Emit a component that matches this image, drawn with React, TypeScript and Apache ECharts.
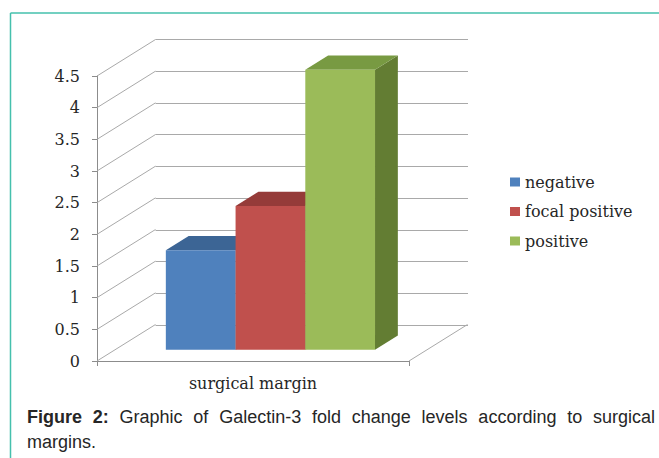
import React, { useEffect, useRef } from "react";
import * as echarts from "echarts";

const categories = ["surgical margin"];
const seriesNames = ["negative", "focal positive", "positive"];
const seriesValues = [1.57, 2.27, 4.42];
const yTicks = [0, 0.5, 1, 1.5, 2, 2.5, 3, 3.5, 4, 4.5];
const frontColors = ["#4f81bd", "#c0504d", "#9bbb59"];
const topColors = ["#3c6595", "#953b39", "#789a42"];
const sideColors = ["#34577f", "#7f3230", "#637d33"];
const captionBold = ["Figure", "2:"];
const captionLine1 = ["Graphic", "of", "Galectin-3", "fold", "change", "levels", "according", "to", "surgical"];
const captionLine2 = "margins.";

// 3D projection constants (full depth offset of the plot box)
const DX = 58.5;
const DY = -36.5;
const F0 = 0.31; // bar front plane depth fraction
const F1 = 0.7; // bar back plane depth fraction
const GAP = 0.1625;
const BW = 0.2235;

const CAP_FONT = "'Liberation Sans', Arial, sans-serif";
const CAP_SIZE = 18;

function measure(text: string, bold: boolean): number {
  const c = document.createElement("canvas");
  const ctx = c.getContext("2d")!;
  ctx.font = `${bold ? "bold " : ""}${CAP_SIZE}px ${CAP_FONT}`;
  return ctx.measureText(text).width;
}

export default function App() {
  const ref = useRef<HTMLDivElement>(null);
  useEffect(() => {
    document.body.style.margin = "0";
    if (!ref.current) return;
    const chart = echarts.init(ref.current, undefined, { renderer: "svg" });

    // justified caption line 1
    const words = [
      ...captionBold.map((w) => ({ w, bold: true })),
      ...captionLine1.map((w) => ({ w, bold: false })),
    ];
    const widths = words.map((o) => measure(o.w, o.bold));
    const x0 = 27;
    const x1 = 655;
    const total = widths.reduce((a, b) => a + b, 0);
    const gap = (x1 - x0 - total) / (words.length - 1);
    let cx = x0;
    const captionEls: any[] = words.map((o, k) => {
      const el = {
        type: "text",
        x: cx,
        y: 417,
        style: {
          text: o.w,
          fontFamily: CAP_FONT,
          fontSize: CAP_SIZE,
          fontWeight: o.bold ? "bold" : "normal",
          fill: "#262626",
          verticalAlign: "middle",
          align: "left",
        },
      };
      cx += widths[k] + gap;
      return el;
    });
    captionEls.push({
      type: "text",
      x: x0,
      y: 442,
      style: {
        text: captionLine2,
        fontFamily: CAP_FONT,
        fontSize: CAP_SIZE,
        fill: "#262626",
        verticalAlign: "middle",
        align: "left",
      },
    });

    const gridColor = "#a9a9a9";
    const labelFont = "'DejaVu Serif', serif";
    const labelColor = "#262626";

    const wallData: number[][] = yTicks.map((v) => [0, v]);
    wallData.push([1, 0]);

    const barSeries = seriesNames.map((name, i) => ({
      name,
      type: "custom",
      xAxisIndex: 2,
      yAxisIndex: 1,
      z: 5,
      itemStyle: { color: frontColors[i] },
      data: [[i, seriesValues[i]]],
      renderItem: (params: any, api: any) => {
        const idx = api.value(0);
        const v = api.value(1);
        const xl = GAP + idx * BW;
        const xr = xl + BW;
        const BL = api.coord([xl, 0]);
        const TL = api.coord([xl, v]);
        const TR = api.coord([xr, v]);
        const BR = api.coord([xr, 0]);
        const o = (p: number[], f: number) => [p[0] + DX * f, p[1] + DY * f];
        return {
          type: "group",
          children: [
            {
              type: "polygon",
              shape: { points: [o(TR, F0), o(TR, F1), o(BR, F1), o(BR, F0)] },
              style: { fill: sideColors[idx] },
            },
            {
              type: "polygon",
              shape: { points: [o(TL, F0), o(TL, F1), o(TR, F1), o(TR, F0)] },
              style: { fill: topColors[idx] },
            },
            {
              type: "polygon",
              shape: { points: [o(BL, F0), o(TL, F0), o(TR, F0), o(BR, F0)] },
              style: { fill: frontColors[idx] },
            },
          ],
        };
      },
    }));

    chart.setOption({
      animation: false,
      backgroundColor: "#ffffff",
      grid: [
        { left: 155.5, top: 39.5, width: 312.5, height: 285.5 },
        { left: 97, top: 76, width: 312, height: 285 },
      ],
      xAxis: [
        { gridIndex: 0, type: "value", min: 0, max: 1, show: false },
        {
          gridIndex: 1,
          type: "category",
          data: categories,
          axisLine: { show: true, lineStyle: { color: "#8c8c8c", width: 1 } },
          axisTick: { show: true, length: 5, lineStyle: { color: "#8c8c8c" } },
          axisLabel: {
            margin: 14,
            fontFamily: labelFont,
            fontSize: 16,
            color: labelColor,
          },
          splitLine: { show: false },
        },
        { gridIndex: 1, type: "value", min: 0, max: 1, show: false },
      ],
      yAxis: [
        {
          gridIndex: 0,
          type: "value",
          min: 0,
          max: 4.5,
          interval: 0.5,
          axisLine: { show: false },
          axisTick: { show: false },
          axisLabel: { show: false },
          splitLine: { show: true, lineStyle: { color: gridColor, width: 1 } },
        },
        {
          gridIndex: 1,
          type: "value",
          min: 0,
          max: 4.5,
          interval: 0.5,
          axisLine: { show: true, lineStyle: { color: "#8c8c8c", width: 1 } },
          axisTick: { show: true, length: 5, lineStyle: { color: "#8c8c8c" } },
          axisLabel: {
            margin: 17,
            fontFamily: labelFont,
            fontSize: 16,
            color: labelColor,
          },
          splitLine: { show: false },
        },
      ],
      legend: {
        data: seriesNames,
        orient: "vertical",
        left: 505,
        top: 169,
        icon: "rect",
        itemWidth: 10,
        itemHeight: 9,
        itemGap: 13.5,
        textStyle: {
          fontFamily: labelFont,
          fontSize: 16,
          color: labelColor,
          lineHeight: 16,
          padding: [0, 0, 0, 0],
        },
        selectedMode: false,
      },
      graphic: [
        {
          type: "line",
          shape: { x1: 10.5, y1: 13, x2: 659, y2: 13 },
          style: { stroke: "#45c0ad", lineWidth: 1.5 },
        },
        {
          type: "line",
          shape: { x1: 10.5, y1: 13, x2: 10.5, y2: 458 },
          style: { stroke: "#45c0ad", lineWidth: 1.5 },
        },
        ...captionEls,
      ],
      series: [
        {
          name: "walls",
          type: "custom",
          xAxisIndex: 2,
          yAxisIndex: 1,
          z: 1,
          silent: true,
          data: wallData,
          renderItem: (params: any, api: any) => {
            const p = api.coord([api.value(0), api.value(1)]);
            return {
              type: "line",
              shape: { x1: p[0], y1: p[1], x2: p[0] + DX, y2: p[1] + DY },
              style: { stroke: gridColor, lineWidth: 1 },
            };
          },
        },
        ...barSeries,
      ],
    });
    return () => chart.dispose();
  }, []);
  return <div ref={ref} style={{ width: 659, height: 458 }} />;
}
